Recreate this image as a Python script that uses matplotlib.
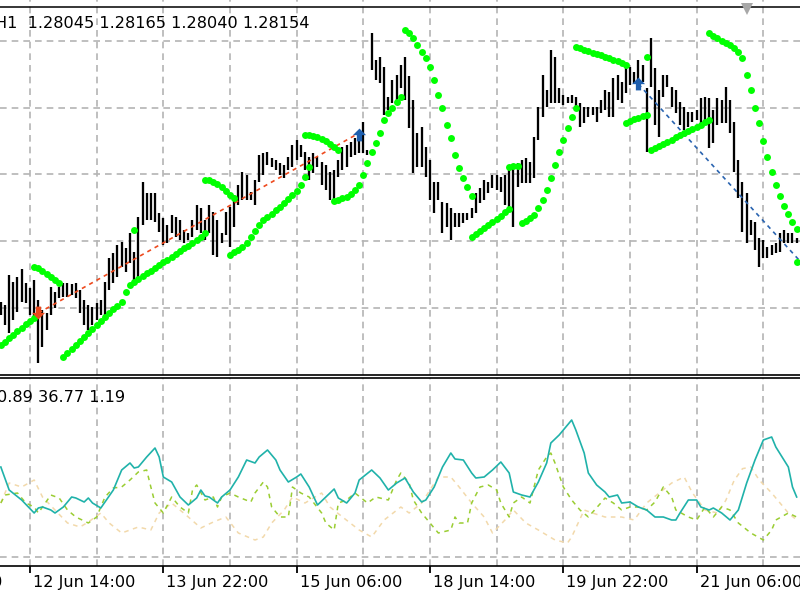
import matplotlib
matplotlib.use("Agg")
import matplotlib.pyplot as plt
from matplotlib.lines import Line2D
import matplotlib.transforms as mtransforms

# ---------------- data (H1 bars, index 0 .. 191) ----------------
highs = [
    1.27845, 1.27830, 1.27980, 1.27945, 1.27970, 1.28010, 1.27940, 1.27915, 1.27955, 1.27855,
    1.27805, 1.27790, 1.27920, 1.27895, 1.27920, 1.27940, 1.27940, 1.27935, 1.27940, 1.27905,
    1.27855, 1.27830, 1.27820, 1.27840, 1.27855, 1.27945, 1.28065, 1.28090, 1.28130, 1.28145,
    1.28115, 1.28190, 1.28095, 1.28270, 1.28445, 1.28390, 1.28390, 1.28390, 1.28290, 1.28265,
    1.28230, 1.28280, 1.28270, 1.28255, 1.28205, 1.28190, 1.28255, 1.28330, 1.28315, 1.28255,
    1.28330, 1.28295, 1.28255, 1.28190, 1.28295, 1.28320, 1.28380, 1.28430, 1.28495, 1.28480,
    1.28395, 1.28455, 1.28580, 1.28590, 1.28595, 1.28565, 1.28555, 1.28540, 1.28530, 1.28570,
    1.28630, 1.28655, 1.28630, 1.28595, 1.28570, 1.28590, 1.28570, 1.28545, 1.28530, 1.28495,
    1.28505, 1.28555, 1.28620, 1.28630, 1.28645, 1.28665, 1.28680, 1.28745, 1.28605, 1.29190,
    1.29055, 1.29070, 1.29020, 1.28870, 1.28955, 1.28980, 1.29030, 1.29070, 1.28975, 1.28855,
    1.28690, 1.28720, 1.28620, 1.28555, 1.28445, 1.28445, 1.28345, 1.28340, 1.28315, 1.28290,
    1.28290, 1.28290, 1.28290, 1.28315, 1.28390, 1.28415, 1.28455, 1.28445, 1.28480, 1.28480,
    1.28470, 1.28480, 1.28515, 1.28520, 1.28540, 1.28555, 1.28565, 1.28545, 1.28670, 1.28820,
    1.28980, 1.28905, 1.29105, 1.29070, 1.28915, 1.28880, 1.28870, 1.28880, 1.28870, 1.28840,
    1.28820, 1.28820, 1.28820, 1.28820, 1.28855, 1.28905, 1.28895, 1.28965, 1.28980, 1.28945,
    1.29040, 1.29020, 1.28995, 1.29055, 1.29030, 1.28915, 1.29165, 1.29015, 1.28905, 1.28980,
    1.28980, 1.28920, 1.28905, 1.28845, 1.28820, 1.28795, 1.28795, 1.28805, 1.28865, 1.28870,
    1.28865, 1.28805, 1.28865, 1.28855, 1.28920, 1.28855, 1.28745, 1.28555, 1.28445, 1.28390,
    1.28255, 1.28245, 1.28165, 1.28155, 1.28120, 1.28130, 1.28140, 1.28190, 1.28205, 1.28190,
    1.28190, 1.28165,
]
lows = [
    1.27780, 1.27730, 1.27690, 1.27755, 1.27795, 1.27845, 1.27840, 1.27780, 1.27755, 1.27540,
    1.27620, 1.27705, 1.27780, 1.27815, 1.27865, 1.27870, 1.27870, 1.27880, 1.27865, 1.27790,
    1.27730, 1.27705, 1.27730, 1.27755, 1.27780, 1.27770, 1.27905, 1.27940, 1.27970, 1.28020,
    1.27995, 1.28040, 1.27945, 1.27970, 1.28230, 1.28255, 1.28255, 1.28245, 1.28195, 1.28130,
    1.28140, 1.28190, 1.28170, 1.28155, 1.28140, 1.28155, 1.28170, 1.28205, 1.28190, 1.28155,
    1.28190, 1.28080, 1.28070, 1.28140, 1.28180, 1.28120, 1.28220, 1.28330, 1.28355, 1.28355,
    1.28355, 1.28330, 1.28445, 1.28480, 1.28530, 1.28520, 1.28505, 1.28480, 1.28465, 1.28505,
    1.28520, 1.28555, 1.28570, 1.28505, 1.28455, 1.28490, 1.28520, 1.28430, 1.28405, 1.28355,
    1.28345, 1.28470, 1.28505, 1.28520, 1.28570, 1.28580, 1.28590, 1.28590, 1.28580, 1.29005,
    1.28955, 1.28940, 1.28780, 1.28805, 1.28840, 1.28855, 1.28915, 1.28855, 1.28715, 1.28490,
    1.28520, 1.28520, 1.28470, 1.28355, 1.28290, 1.28355, 1.28190, 1.28220, 1.28155, 1.28220,
    1.28220, 1.28240, 1.28255, 1.28265, 1.28290, 1.28340, 1.28355, 1.28390, 1.28415, 1.28405,
    1.28395, 1.28330, 1.28320, 1.28220, 1.28420, 1.28440, 1.28440, 1.28440, 1.28465, 1.28655,
    1.28770, 1.28820, 1.28840, 1.28840, 1.28840, 1.28830, 1.28840, 1.28840, 1.28820, 1.28720,
    1.28740, 1.28770, 1.28780, 1.28745, 1.28790, 1.28805, 1.28770, 1.28770, 1.28855, 1.28840,
    1.28890, 1.28930, 1.28940, 1.28945, 1.28945, 1.28595, 1.28920, 1.28730, 1.28670, 1.28870,
    1.28920, 1.28820, 1.28790, 1.28730, 1.28705, 1.28720, 1.28745, 1.28755, 1.28720, 1.28740,
    1.28615, 1.28640, 1.28730, 1.28740, 1.28740, 1.28690, 1.28495, 1.28365, 1.28195, 1.28140,
    1.28180, 1.28105, 1.28020, 1.28065, 1.28065, 1.28080, 1.28090, 1.28095, 1.28140, 1.28140,
    1.28140, 1.28140,
]

# green dot indicator: {first bar index: [values...]}
dots_lower = {
    0: [1.27630, 1.27645, 1.27665, 1.27680, 1.27700, 1.27715, 1.27735, 1.27750, 1.27765],
    15: [1.27570, 1.27590, 1.27610, 1.27630, 1.27650, 1.27670, 1.27690, 1.27710, 1.27730,
         1.27750, 1.27770, 1.27790, 1.27810, 1.27825, 1.27845, 1.27895, 1.27930, 1.27945,
         1.27960, 1.27975, 1.27990, 1.28000, 1.28015, 1.28030, 1.28045, 1.28055, 1.28070,
         1.28085, 1.28100, 1.28115, 1.28125, 1.28140, 1.28155, 1.28170, 1.28190],
    55: [1.28080, 1.28095, 1.28105, 1.28120, 1.28140, 1.28170, 1.28200, 1.28230, 1.28255,
         1.28270, 1.28285, 1.28305, 1.28320, 1.28340, 1.28360, 1.28380, 1.28400, 1.28430,
         1.28470, 1.28520],
    80: [1.28350, 1.28355, 1.28365, 1.28370, 1.28385, 1.28405, 1.28430, 1.28480, 1.28540,
         1.28595, 1.28640, 1.28690, 1.28755, 1.28790, 1.28815, 1.28845, 1.28870],
    113: [1.28170, 1.28185, 1.28200, 1.28215, 1.28230, 1.28245, 1.28260, 1.28275, 1.28295, 1.28310],
    125: [1.28240, 1.28250, 1.28265, 1.28280, 1.28315, 1.28355, 1.28405, 1.28465, 1.28530,
          1.28595, 1.28655, 1.28715, 1.28770, 1.28815],
    150: [1.28740, 1.28750, 1.28760, 1.28765, 1.28775, 1.28780],
    156: [1.28605, 1.28615, 1.28625, 1.28635, 1.28645, 1.28655, 1.28670, 1.28680, 1.28690,
          1.28700, 1.28710, 1.28720, 1.28730, 1.28745, 1.28755],
    191: [1.28045],
}
dots_upper = {
    8: [1.28020, 1.28015, 1.28000, 1.27985, 1.27970, 1.27955, 1.27940],
    32: [1.28205],
    49: [1.28455, 1.28455, 1.28445, 1.28435, 1.28420, 1.28400, 1.28380, 1.28365],
    73: [1.28680, 1.28680, 1.28675, 1.28670, 1.28660, 1.28650, 1.28635, 1.28620, 1.28605],
    97: [1.29205, 1.29190, 1.29165, 1.29130, 1.29095, 1.29065, 1.29020, 1.28955, 1.28880,
         1.28815, 1.28730, 1.28665, 1.28580, 1.28515, 1.28465, 1.28420, 1.28375],
    122: [1.28520, 1.28525, 1.28525],
    138: [1.29120, 1.29115, 1.29105, 1.29100, 1.29090, 1.29085, 1.29080, 1.29070, 1.29065,
          1.29055, 1.29050, 1.29040, 1.29030],
    155: [1.29070],
    170: [1.29190, 1.29175, 1.29165, 1.29150, 1.29140, 1.29130, 1.29115, 1.29095, 1.29065,
          1.28980, 1.28905, 1.28815, 1.28740, 1.28650, 1.28570, 1.28495, 1.28430, 1.28375,
          1.28325, 1.28285, 1.28245, 1.28210],
}

# trend lines and arrows
red_line_x = [9, 86]
red_line_y = [1.27790, 1.28690]
blue_line_x = [153, 192]
blue_line_y = [1.28935, 1.28045]
arrow_dn_x = [9]
arrow_dn_y = [1.27795]
arrow_up_x = [86, 153]
arrow_up_y = [1.28680, 1.28935]

# ADX subwindow (bar index, value)
adx = [(0, 27.0), (2, 20.1), (5, 17.1), (8, 13.2), (9, 14.7), (10, 15.0), (12, 14.1), (13, 13.2),
       (15, 15.0), (17, 18.0), (18, 17.7), (20, 16.5), (21, 17.7), (22, 16.2), (24, 14.7), (25, 16.5),
       (27, 20.1), (29, 26.1), (31, 28.2), (32, 26.7), (33, 27.0), (35, 30.0), (37, 32.7), (38, 30.0),
       (39, 24.0), (41, 22.5), (43, 18.0), (45, 15.6), (47, 17.7), (48, 20.1), (49, 18.3), (50, 18.0),
       (52, 16.2), (53, 18.0), (55, 20.1), (57, 24.0), (59, 29.1), (61, 28.2), (62, 30.0), (64, 32.1),
       (66, 29.1), (67, 26.1), (69, 22.5), (71, 24.0), (72, 24.9), (74, 21.0), (76, 15.6), (78, 18.0),
       (80, 20.4), (81, 17.7), (83, 16.2), (85, 19.2), (86, 23.1), (89, 26.1), (91, 23.7), (93, 20.1),
       (95, 22.2), (97, 23.7), (99, 19.5), (101, 16.5), (102, 17.1), (104, 21.0), (105, 24.0),
       (106, 27.0), (108, 31.2), (109, 29.4), (111, 29.1), (113, 25.2), (114, 23.7), (116, 24.0),
       (118, 26.1), (120, 28.5), (122, 25.2), (123, 19.5), (125, 18.6), (127, 18.0), (129, 22.5),
       (131, 28.2), (132, 34.2), (134, 36.6), (136, 39.6), (137, 41.1), (138, 38.1), (140, 31.2),
       (141, 25.2), (143, 21.6), (145, 19.5), (146, 18.0), (148, 18.6), (149, 16.2), (151, 16.5),
       (153, 15.0), (155, 14.1), (157, 12.0), (159, 12.0), (161, 11.1), (162, 11.1), (163, 13.2),
       (165, 17.1), (167, 17.1), (168, 15.0), (170, 14.1), (171, 14.7), (173, 13.2), (175, 11.1),
       (177, 14.1), (179, 22.2), (181, 29.1), (183, 35.1), (185, 36.0), (186, 33.0), (189, 27.0),
       (190, 21.0), (191, 18.0)]
plus_di = [(0, 16.2), (1, 18.6), (4, 19.2), (6, 16.2), (8, 15.0), (9, 13.2), (12, 18.6), (14, 17.7),
           (16, 14.1), (18, 12.0), (21, 10.2), (23, 12.0), (25, 18.0), (27, 20.7), (29, 21.0),
           (31, 23.1), (33, 25.5), (35, 26.1), (36, 21.0), (37, 16.2), (39, 13.2), (41, 18.0),
           (43, 15.0), (45, 13.2), (46, 20.1), (47, 21.6), (49, 17.1), (51, 18.0), (52, 15.0),
           (53, 18.0), (55, 19.2), (57, 18.0), (60, 16.5), (61, 19.2), (63, 22.5), (64, 21.0),
           (65, 15.0), (67, 12.0), (69, 12.0), (70, 21.0), (72, 19.2), (74, 18.0), (77, 13.2),
           (78, 10.2), (80, 8.1), (81, 16.2), (83, 17.1), (85, 19.2), (88, 16.2), (90, 18.0),
           (93, 17.1), (95, 23.1), (96, 25.2), (98, 22.2), (99, 17.1), (101, 13.2), (103, 10.2),
           (105, 7.2), (108, 8.1), (109, 12.0), (110, 10.2), (112, 10.2), (113, 16.2), (115, 21.0),
           (117, 21.6), (119, 20.1), (120, 16.2), (122, 12.0), (123, 16.2), (125, 18.0), (127, 16.2),
           (129, 26.1), (131, 30.0), (132, 31.2), (133, 28.2), (135, 21.0), (137, 17.1), (139, 14.1),
           (141, 12.0), (144, 16.2), (145, 17.7), (147, 16.2), (149, 14.1), (151, 15.0), (153, 15.0),
           (155, 14.1), (157, 16.5), (159, 21.0), (161, 18.0), (162, 14.1), (165, 12.0), (167, 11.1),
           (169, 15.0), (171, 12.0), (173, 15.0), (175, 14.1), (177, 10.2), (180, 7.2), (183, 5.1),
           (185, 8.1), (186, 11.1), (189, 13.2), (191, 12.0)]
minus_di = [(0, 16.2), (2, 22.2), (5, 21.0), (8, 23.1), (10, 18.0), (13, 14.1), (16, 10.2), (19, 9.0),
            (21, 10.5), (24, 13.2), (26, 10.2), (29, 7.2), (31, 8.1), (33, 9.0), (36, 8.1), (38, 13.2),
            (41, 16.2), (43, 14.1), (45, 12.0), (48, 8.7), (51, 10.5), (54, 12.0), (57, 7.2), (61, 5.1),
            (63, 6.0), (65, 10.2), (68, 14.1), (70, 18.0), (73, 16.2), (77, 19.2), (79, 15.0),
            (82, 12.0), (86, 8.1), (89, 6.0), (92, 11.1), (96, 15.0), (98, 13.2), (101, 16.2),
            (103, 20.1), (105, 24.0), (108, 24.0), (110, 21.0), (113, 16.2), (116, 12.0), (118, 7.2),
            (121, 11.1), (123, 14.1), (126, 10.2), (129, 8.1), (133, 5.1), (136, 4.2), (137, 6.0),
            (140, 14.1), (142, 13.2), (145, 12.0), (149, 12.0), (152, 11.1), (155, 16.2), (158, 19.2),
            (161, 22.2), (164, 24.0), (166, 19.2), (169, 14.1), (172, 13.2), (174, 17.0), (176, 23.0),
            (178, 26.5), (180, 27.0), (182, 23.1), (185, 19.2), (187, 16.2), (189, 13.2), (191, 11.1)]

tick_idx = [-25, 7, 39, 71, 103, 135, 167]
tick_labels = ["11 Jun 06:00", "12 Jun 14:00", "13 Jun 22:00", "15 Jun 06:00",
               "18 Jun 14:00", "19 Jun 22:00", "21 Jun 06:00"]
grid_idx = [7 + 16 * k for k in range(12)]
price_grid = [1.27817, 1.28150, 1.28483, 1.28817, 1.29150]
top_line_price = 1.29320
header_text = "H1  1.28045 1.28165 1.28040 1.28154"
sub_text = "0.89 36.77 1.19"

# ---------------- styling ----------------
W, H = 800, 600
GRID_C = "#b4b4b4"
GRID_LS = (0, (4, 3))
FS = 11.6
plt.rcParams["font.family"] = ["DejaVu Sans"]

fig = plt.figure(figsize=(8, 6), dpi=100)
fig.patch.set_facecolor("white")

top_bot = 374.5
low_top, low_bot = 377.5, 566.0
ax = fig.add_axes([0, 1 - top_bot / H, 1, top_bot / H])
ax2 = fig.add_axes([0, 1 - low_bot / H, 1, (low_bot - low_top) / H])

XMIN, XMAX = -0.2, 191.8
for a in (ax, ax2):
    a.set_facecolor("white")
    for g in grid_idx:
        a.axvline(g, color=GRID_C, lw=1.2, ls=GRID_LS, zorder=0)

for p in price_grid:
    ax.axhline(p, color=GRID_C, lw=1.2, ls=GRID_LS, zorder=0)
ax2.axhline(0, color=GRID_C, lw=1.2, ls=GRID_LS, zorder=0)

ax.axhline(top_line_price, color="black", lw=1.1, zorder=1)

# bars
idx = list(range(len(highs)))
ax.vlines(idx, lows, highs, color="black", lw=1.65, zorder=2)

# trend lines
ax.plot(red_line_x, red_line_y, color="#ee4a1e", lw=1.2, ls=(0, (2.5, 2.5)), zorder=3)
ax.plot(blue_line_x, blue_line_y, color="#2a64b0", lw=1.2, ls=(0, (2.5, 2.5)), zorder=3)

# green dots
for d in (dots_lower, dots_upper):
    for start, vals in d.items():
        ax.plot(range(start, start + len(vals)), vals, "o", color="#00ff00",
                ms=5.0, mew=0, zorder=4)

# arrows
up_arrow = [(0, 1), (0.95, 0.05), (0.38, 0.05), (0.38, -0.85), (-0.38, -0.85),
            (-0.38, 0.05), (-0.95, 0.05), (0, 1)]
dn_arrow = [(x, -y) for x, y in up_arrow]
ax.plot(arrow_up_x, arrow_up_y, ls="none", marker=up_arrow, ms=10, color="#1f5fae", mew=0, zorder=5)
ax.plot(arrow_dn_x, arrow_dn_y, ls="none", marker=dn_arrow, ms=10, color="#e84a1e", mew=0, zorder=5)

# ADX subwindow
def unzip(pairs):
    return [p[0] for p in pairs], [p[1] for p in pairs]

mx, mv = unzip(minus_di)
px, pv = unzip(plus_di)
ax_, av = unzip(adx)
ax2.plot(mx, mv, color="#f2d9ab", lw=1.1, ls=(0, (3, 3)), zorder=2)
ax2.plot(px, pv, color="#9acd32", lw=1.1, ls=(0, (3, 3)), zorder=3)
ax2.plot(ax_, av, color="#20b2aa", lw=1.2, zorder=4)

# spines / ticks
for s in ("top", "left", "right"):
    ax.spines[s].set_visible(False)
ax.spines["bottom"].set_color("black")
ax.spines["bottom"].set_linewidth(1.2)
ax.set_xticks([])
ax.set_yticks([])

for s in ("left", "right"):
    ax2.spines[s].set_visible(False)
for s in ("top", "bottom"):
    ax2.spines[s].set_color("black")
    ax2.spines[s].set_linewidth(1.2)
ax2.set_yticks([])
ax2.set_xticks(tick_idx)
ax2.tick_params(axis="x", direction="out", length=5, width=1.3, color="black", labelbottom=False)

# limits set last (set_xticks would otherwise widen the view)
for a in (ax, ax2):
    a.set_xlim(XMIN, XMAX)
ax.set_ylim(1.274825, 1.29355)
ax2.set_ylim(-2.7, 53.85)

trans = mtransforms.blended_transform_factory(ax2.transData, fig.transFigure)
for t, lab in zip(tick_idx, tick_labels):
    ax2.text(t + 0.75, 1 - 583 / H, lab, transform=trans, ha="left", va="center",
             fontsize=FS, color="black", clip_on=False)

fig.text(-5 / W, 1 - 23 / H, header_text, ha="left", va="center", fontsize=FS, color="black")
fig.text(-3 / W, 1 - 398 / H, sub_text, ha="left", va="center", fontsize=FS, color="black")

fig.add_artist(Line2D([747 / W], [1 - 9 / H], marker="v", ms=8, color="#a8a8a8", mew=0,
                      transform=fig.transFigure))

fig.savefig("out.png", dpi=100, facecolor="white")
